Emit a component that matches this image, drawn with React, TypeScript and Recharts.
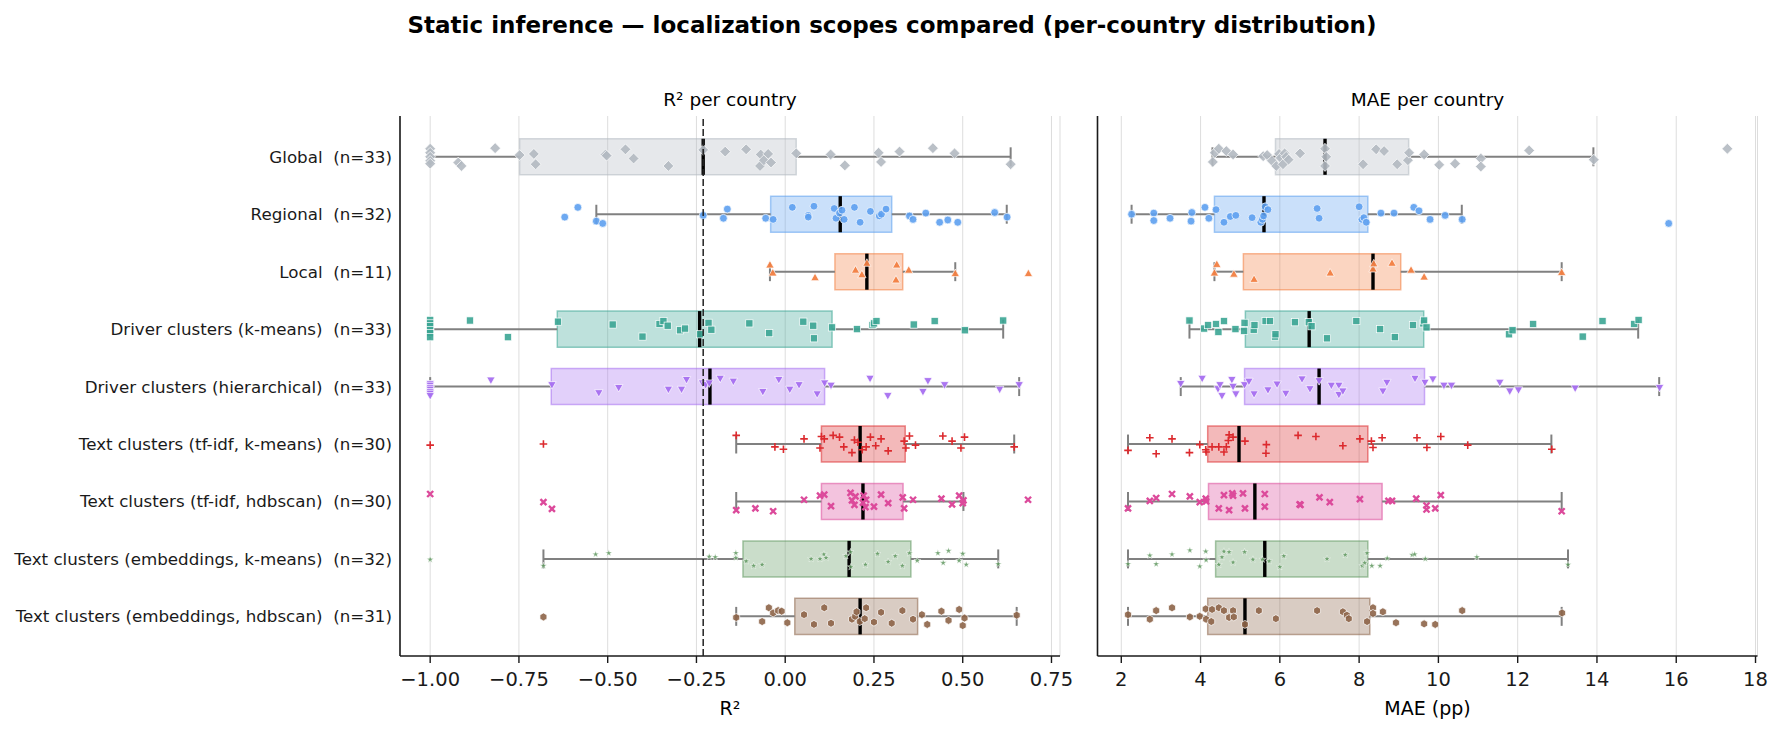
import React from 'react';
import {
  ScatterChart, Scatter, XAxis, YAxis, CartesianGrid, ReferenceArea, ReferenceLine,
} from 'recharts';

// categories (top to bottom)
const groups = [
  'Global  (n=33)',
  'Regional  (n=32)',
  'Local  (n=11)',
  'Driver clusters (k-means)  (n=33)',
  'Driver clusters (hierarchical)  (n=33)',
  'Text clusters (tf-idf, k-means)  (n=30)',
  'Text clusters (tf-idf, hdbscan)  (n=30)',
  'Text clusters (embeddings, k-means)  (n=32)',
  'Text clusters (embeddings, hdbscan)  (n=31)',
];

// ---- R² per country (values) + strip jitter (row units) ----
const r2Global = [-1, -1, -1, -1, -1, -0.921, -0.912, -0.817, -0.748, -0.708, -0.703, -0.506, -0.503, -0.45, -0.427, -0.329, -0.231, -0.169, -0.11, -0.071, -0.069, -0.06, -0.048, -0.04, 0.031, 0.128, 0.168, 0.263, 0.27, 0.322, 0.416, 0.477, 0.635];
const r2GlobalJit = [-0.14, -0.07, 0, 0.07, 0.12, 0.1, 0.16, -0.15, -0.03, -0.05, 0.13, -0.04, -0.02, -0.13, 0.03, 0.16, -0.12, -0.09, -0.13, 0.16, -0.04, 0.06, -0.05, 0.1, -0.06, -0.04, 0.15, -0.07, 0.09, -0.09, -0.15, -0.06, 0.13];
const r2Regional = [-0.621, -0.584, -0.532, -0.514, -0.231, -0.174, -0.163, -0.055, -0.034, 0.02, 0.065, 0.065, 0.081, 0.138, 0.143, 0.153, 0.16, 0.166, 0.195, 0.211, 0.24, 0.265, 0.271, 0.284, 0.35, 0.36, 0.396, 0.435, 0.458, 0.486, 0.59, 0.625];
const r2RegionalJit = [0.05, -0.12, 0.12, 0.16, 0.02, 0.07, -0.09, 0.07, 0.09, -0.12, 0.02, 0.05, -0.14, -0.1, 0.07, -0.02, -0.07, 0.09, -0.12, 0.14, -0.05, 0.03, 0, -0.09, 0.03, 0.09, -0.02, 0.14, 0.1, 0.14, -0.03, 0.05];
const r2Local = [-0.043, -0.035, 0.084, 0.198, 0.216, 0.23, 0.312, 0.314, 0.348, 0.479, 0.685];
const r2LocalJit = [-0.12, 0.02, 0.1, -0.03, 0.05, -0.15, 0.14, -0.12, -0.03, 0.03, 0.03];
const r2DriverKm = [-1, -1, -1, -1, -1, -1, -0.888, -0.781, -0.64, -0.486, -0.402, -0.354, -0.343, -0.331, -0.296, -0.282, -0.24, -0.216, -0.208, -0.101, -0.045, 0.051, 0.079, 0.081, 0.132, 0.202, 0.246, 0.25, 0.257, 0.362, 0.421, 0.506, 0.614];
const r2DriverKmJit = [-0.16, -0.1, -0.05, 0.02, 0.07, 0.14, -0.15, 0.14, -0.13, -0.08, 0.13, -0.09, -0.14, -0.06, 0.02, -0.01, 0.09, -0.11, 0.01, -0.1, 0.07, -0.13, -0.06, 0.16, -0.03, 0, -0.07, -0.1, -0.14, -0.08, -0.14, 0.02, -0.15];
const r2DriverHier = [-1, -1, -1, -1, -1, -1, -1, -0.829, -0.657, -0.525, -0.469, -0.329, -0.292, -0.278, -0.233, -0.224, -0.214, -0.183, -0.146, -0.063, -0.018, 0.013, 0.039, 0.09, 0.111, 0.129, 0.239, 0.289, 0.388, 0.402, 0.449, 0.604, 0.659];
const r2DriverHierJit = [-0.05, -0.02, 0.02, 0.05, 0.09, 0.12, 0.16, -0.11, -0.03, 0.11, 0.02, 0.05, 0.05, -0.12, -0.06, -0.03, -0.06, -0.14, -0.09, 0.09, -0.12, 0.05, -0.03, 0.13, -0.06, -0.02, -0.14, 0.16, 0.09, -0.1, -0.03, 0.05, -0.03];
const r2TfidfKm = [-1, -0.681, -0.138, -0.029, -0.005, 0.053, 0.098, 0.102, 0.11, 0.135, 0.153, 0.165, 0.188, 0.195, 0.205, 0.217, 0.228, 0.24, 0.255, 0.27, 0.29, 0.335, 0.34, 0.35, 0.367, 0.444, 0.47, 0.495, 0.505, 0.645];
const r2TfidfKmJit = [0.02, 0, -0.15, 0.05, 0.09, -0.09, 0.07, -0.13, -0.09, -0.15, -0.12, 0.05, 0.15, -0.07, -0.03, 0.1, 0.05, -0.12, 0.03, -0.09, 0.12, -0.05, 0.07, -0.14, 0.02, -0.14, -0.05, 0.07, -0.12, 0.05];
const r2TfidfHdb = [-1, -0.681, -0.657, -0.138, -0.084, -0.034, 0.053, 0.098, 0.11, 0.129, 0.184, 0.188, 0.195, 0.198, 0.219, 0.221, 0.226, 0.228, 0.25, 0.27, 0.29, 0.331, 0.335, 0.36, 0.44, 0.47, 0.49, 0.5, 0.502, 0.684];
const r2TfidfHdbJit = [-0.13, 0.01, 0.13, 0.15, 0.12, 0.17, -0.03, -0.1, -0.12, 0.08, -0.15, -0.02, 0.06, -0.09, 0.02, -0.1, 0.1, -0.03, 0.09, -0.12, 0.03, -0.07, 0.12, -0.03, -0.05, 0.05, -0.1, 0.03, -0.02, -0.03];
const r2EmbKm = [-1, -0.681, -0.534, -0.497, -0.214, -0.197, -0.139, -0.139, -0.11, -0.089, -0.065, 0.073, 0.098, 0.109, 0.115, 0.171, 0.184, 0.185, 0.226, 0.26, 0.29, 0.31, 0.33, 0.35, 0.372, 0.43, 0.445, 0.46, 0.49, 0.5, 0.51, 0.6];
const r2EmbKmJit = [0.01, 0.12, -0.08, -0.1, -0.04, -0.03, -0.1, -0.02, 0.04, 0.12, 0.1, 0, 0, -0.08, -0.02, -0.05, -0.12, 0.14, 0.1, -0.09, 0.05, -0.05, 0.12, -0.1, 0.03, -0.1, 0.07, -0.14, 0.03, -0.09, 0.1, 0.09];
const r2EmbHdb = [-0.681, -0.138, -0.065, -0.046, -0.034, -0.02, -0.01, 0.006, 0.053, 0.081, 0.11, 0.129, 0.188, 0.197, 0.201, 0.21, 0.224, 0.228, 0.25, 0.27, 0.3, 0.33, 0.36, 0.385, 0.4, 0.44, 0.46, 0.49, 0.5, 0.505, 0.652];
const r2EmbHdbJit = [0.01, 0.02, 0.09, -0.15, -0.06, -0.1, -0.09, 0.11, -0.03, 0.14, -0.15, 0.12, 0.05, 0, -0.08, 0.09, 0.04, -0.15, 0.1, -0.07, 0.12, -0.1, 0.05, -0.03, 0.14, -0.09, 0.07, -0.12, 0.16, 0.03, -0.02];

// R² box statistics
const r2Lo = [-1, -0.532, -0.043, -1, -1, -0.138, -0.138, -0.681, -0.138];
const r2Q1 = [-0.748, -0.041, 0.14, -0.642, -0.659, 0.102, 0.102, -0.119, 0.027];
const r2Median = [-0.231, 0.155, 0.23, -0.241, -0.212, 0.211, 0.219, 0.18, 0.211];
const r2Q3 = [0.031, 0.3, 0.331, 0.132, 0.111, 0.338, 0.332, 0.354, 0.373];
const r2Hi = [0.635, 0.624, 0.479, 0.614, 0.659, 0.645, 0.502, 0.6, 0.652];
const r2GlobalMedian = -0.231;

// ---- MAE per country (pp) ----
const maeGlobal = [4.31, 4.36, 4.46, 4.65, 4.82, 5.58, 5.68, 5.8, 5.91, 5.98, 6.02, 6.08, 6.12, 6.16, 6.22, 6.51, 7.14, 7.14, 7.17, 8.1, 8.43, 8.63, 8.96, 9.23, 9.26, 9.64, 10.02, 10.42, 11.07, 11.07, 12.29, 13.92, 17.29];
const maeGlobalJit = [0.09, -0.07, -0.14, -0.1, -0.04, -0.01, -0.03, 0.07, 0.16, -0.05, 0.02, 0.13, -0.06, 0, 0.05, -0.06, -0.14, 0.16, 0, 0.13, -0.13, -0.1, 0.13, 0.06, -0.07, -0.04, 0.14, 0.12, 0.03, 0.17, -0.11, 0.05, -0.14];
const maeRegional = [2.26, 2.82, 2.82, 3.23, 3.76, 3.78, 4.11, 4.21, 4.39, 4.59, 4.75, 4.89, 5.3, 5.52, 5.56, 5.59, 5.63, 5.7, 6.94, 6.99, 8.0, 8.07, 8.12, 8.18, 8.55, 8.88, 9.38, 9.51, 9.79, 10.17, 10.6, 15.81];
const maeRegionalJit = [0, -0.02, 0.11, 0.07, 0.12, -0.03, -0.12, 0.07, -0.08, 0.14, 0.04, 0.02, 0.06, 0.14, 0.09, 0.03, -0.13, -0.08, -0.1, 0.07, -0.13, 0.09, 0.06, 0.14, -0.02, -0.02, -0.12, -0.06, 0.09, 0.02, 0.09, 0.16];
const maeLocal = [4.35, 4.41, 4.84, 5.35, 7.27, 8.35, 8.37, 8.83, 9.31, 9.64, 13.11];
const maeLocalJit = [0.02, -0.13, 0.04, 0.13, 0.02, -0.05, -0.14, -0.15, -0.03, 0.09, 0.01];
const maeDriverKm = [3.72, 4.09, 4.19, 4.39, 4.45, 4.59, 4.88, 5.1, 5.11, 5.34, 5.36, 5.64, 5.75, 5.88, 5.89, 6.38, 6.73, 6.8, 7.19, 7.93, 8.53, 8.9, 9.36, 9.62, 9.64, 9.7, 11.78, 11.87, 12.39, 13.64, 14.14, 14.94, 15.05];
const maeDriverKmJit = [-0.15, -0.01, -0.07, -0.09, 0.05, -0.14, 0, 0.03, -0.11, 0.01, -0.07, -0.14, -0.14, 0.13, 0.09, -0.12, -0.12, -0.05, 0.16, -0.14, 0, 0.14, -0.07, -0.1, -0.15, -0.03, 0.09, 0.02, -0.09, 0.13, -0.14, -0.09, -0.16];
const maeDriverHier = [3.5, 4.04, 4.44, 4.49, 4.54, 4.79, 4.82, 4.89, 5.11, 5.22, 5.35, 5.7, 5.93, 6.15, 6.56, 6.76, 6.99, 7.3, 7.49, 7.49, 7.59, 8.6, 8.7, 9.41, 9.66, 9.86, 10.14, 10.33, 11.55, 11.8, 12.02, 13.45, 15.58];
const maeDriverHierJit = [-0.05, -0.14, 0.04, -0.03, 0.16, -0.12, 0, 0.13, -0.03, -0.09, 0.13, 0.06, -0.04, 0.12, -0.13, 0.04, -0.1, -0.02, -0.02, 0.14, 0.08, 0.08, -0.07, -0.14, -0.07, -0.13, -0.02, -0.02, -0.07, 0.08, 0.06, 0.03, 0.02];
const maeTfidfKm = [2.17, 2.72, 2.88, 3.28, 3.72, 3.98, 4.13, 4.14, 4.29, 4.46, 4.59, 4.65, 4.7, 4.72, 4.82, 5.12, 5.65, 5.66, 6.46, 6.91, 7.59, 8.02, 8.31, 8.35, 8.58, 9.46, 9.71, 10.06, 10.74, 12.86];
const maeTfidfKmJit = [0.11, -0.11, 0.17, -0.09, 0.15, 0.01, 0.1, 0.14, 0.05, 0.05, 0.14, 0.05, -0.06, -0.16, -0.12, -0.05, 0.16, 0.01, -0.15, -0.13, 0.03, -0.09, -0.05, 0.06, -0.11, -0.11, 0.06, -0.13, 0.02, 0.09];
const maeTfidfHdb = [2.17, 2.72, 2.88, 3.28, 3.73, 3.98, 4.13, 4.14, 4.46, 4.59, 4.72, 4.8, 4.82, 5.07, 5.12, 5.62, 5.62, 6.5, 6.52, 7.0, 7.26, 8.02, 8.74, 8.83, 9.44, 9.7, 9.7, 9.92, 10.06, 13.11];
const maeTfidfHdbJit = [0.12, -0.01, -0.06, -0.13, -0.09, 0.01, -0.05, 0, 0.12, -0.11, 0.15, -0.14, -0.1, -0.14, 0.12, -0.13, 0.09, 0.05, 0.06, -0.07, 0.01, -0.04, -0.01, -0.01, -0.05, 0.07, 0.14, 0.12, -0.11, 0.17];
const maeEmbKm = [2.17, 2.72, 2.88, 3.28, 3.73, 3.98, 4.13, 4.14, 4.46, 4.54, 4.59, 4.72, 4.82, 5.11, 5.32, 5.56, 5.73, 6.0, 6.1, 7.19, 7.65, 8.08, 8.14, 8.2, 8.32, 8.53, 8.71, 9.34, 9.4, 9.67, 10.97, 13.27];
const maeEmbKmJit = [0.09, -0.06, 0.09, -0.08, -0.15, 0.13, -0.13, 0.02, 0.1, -0.03, -0.13, -0.12, 0.06, -0.12, 0.01, 0.01, 0.04, 0.14, -0.05, 0, -0.07, 0.12, 0.07, -0.1, 0.12, 0.12, -0.01, -0.07, -0.08, 0, -0.03, 0.1];
const maeEmbHdb = [2.17, 2.72, 2.88, 3.28, 3.73, 3.98, 4.13, 4.14, 4.27, 4.29, 4.46, 4.59, 4.72, 4.82, 4.84, 5.12, 5.47, 5.9, 6.94, 7.59, 7.69, 7.74, 8.2, 8.35, 8.35, 8.6, 8.93, 9.64, 9.92, 10.6, 13.12];
const maeEmbHdbJit = [-0.03, 0.05, -0.1, -0.15, 0.01, 0, -0.13, 0.05, 0.09, -0.12, -0.15, -0.1, 0.02, -0.1, 0.01, 0.14, -0.1, 0.04, -0.1, -0.08, -0.02, 0.04, 0.09, -0.15, -0.05, -0.08, 0.11, 0.13, 0.14, -0.1, -0.06];

// MAE box statistics
const maeLo = [4.3, 2.26, 4.35, 3.72, 3.5, 2.17, 2.17, 2.17, 2.17];
const maeQ1 = [5.89, 4.35, 5.08, 5.13, 5.11, 4.18, 4.2, 4.38, 4.18];
const maeMedian = [7.14, 5.6, 8.35, 6.74, 6.99, 4.97, 5.37, 5.62, 5.12];
const maeQ3 = [9.25, 8.22, 9.05, 9.63, 9.65, 8.22, 8.58, 8.22, 8.27];
const maeHi = [13.91, 10.59, 13.11, 15.04, 15.57, 12.85, 13.11, 13.27, 13.11];

const r2Ticks = [-1, -0.75, -0.5, -0.25, 0, 0.25, 0.5, 0.75];
const maeTicks = [2, 4, 6, 8, 10, 12, 14, 16, 18];
const rowTicks = [0, 1, 2, 3, 4, 5, 6, 7, 8];

const r2Values = [r2Global, r2Regional, r2Local, r2DriverKm, r2DriverHier, r2TfidfKm, r2TfidfHdb, r2EmbKm, r2EmbHdb];
const r2Jitter = [r2GlobalJit, r2RegionalJit, r2LocalJit, r2DriverKmJit, r2DriverHierJit, r2TfidfKmJit, r2TfidfHdbJit, r2EmbKmJit, r2EmbHdbJit];
const maeValues = [maeGlobal, maeRegional, maeLocal, maeDriverKm, maeDriverHier, maeTfidfKm, maeTfidfHdb, maeEmbKm, maeEmbHdb];
const maeJitter = [maeGlobalJit, maeRegionalJit, maeLocalJit, maeDriverKmJit, maeDriverHierJit, maeTfidfKmJit, maeTfidfHdbJit, maeEmbKmJit, maeEmbHdbJit];

const FONT = '"DejaVu Sans", Verdana, sans-serif';
const INK = '#1a1a1a';

const styles = [
  { color: '#b3b9c1', kind: 'diamond' },
  { color: '#5da0ef', kind: 'circle' },
  { color: '#f27f42', kind: 'triUp' },
  { color: '#3ba594', kind: 'square' },
  { color: '#a66ff0', kind: 'triDown' },
  { color: '#dc2a2e', kind: 'plus' },
  { color: '#dc4a9b', kind: 'cross' },
  { color: '#5f985f', kind: 'star' },
  { color: '#8d6448', kind: 'hex' },
];

function Marker({ cx, cy, kind, color }: { cx: number; cy: number; kind: string; color: string }) {
  if (cx == null || cy == null) return null;
  const edge = { stroke: '#fff', strokeWidth: 0.7 };
  switch (kind) {
    case 'diamond': {
      const s = 5.4;
      return <polygon points={`${cx},${cy - s} ${cx + s},${cy} ${cx},${cy + s} ${cx - s},${cy}`} fill={color} fillOpacity={0.9} {...edge} />;
    }
    case 'circle':
      return <circle cx={cx} cy={cy} r={3.9} fill={color} fillOpacity={0.9} {...edge} />;
    case 'triUp':
      return <polygon points={`${cx},${cy - 4.3} ${cx + 4.2},${cy + 3.2} ${cx - 4.2},${cy + 3.2}`} fill={color} fillOpacity={0.95} {...edge} />;
    case 'triDown':
      return <polygon points={`${cx - 4.2},${cy - 3.2} ${cx + 4.2},${cy - 3.2} ${cx},${cy + 4.3}`} fill={color} fillOpacity={0.95} {...edge} />;
    case 'square':
      return <rect x={cx - 3.6} y={cy - 3.6} width={7.2} height={7.2} fill={color} fillOpacity={0.9} {...edge} />;
    case 'plus':
      return <path d={`M${cx - 3.8},${cy}H${cx + 3.8}M${cx},${cy - 3.8}V${cy + 3.8}`} stroke={color} strokeWidth={1.6} />;
    case 'cross':
      return <path d={`M${cx - 3},${cy - 3}L${cx + 3},${cy + 3}M${cx - 3},${cy + 3}L${cx + 3},${cy - 3}`} stroke={color} strokeWidth={2.4} />;
    case 'star': {
      const pts: string[] = [];
      for (let k = 0; k < 10; k++) {
        const r = k % 2 === 0 ? 3.6 : 1.4;
        const a = -Math.PI / 2 + (k * Math.PI) / 5;
        pts.push(`${cx + r * Math.cos(a)},${cy + r * Math.sin(a)}`);
      }
      return <polygon points={pts.join(' ')} fill={color} fillOpacity={0.85} stroke="#fff" strokeWidth={0.5} />;
    }
    default: {
      const pts: string[] = [];
      for (let k = 0; k < 6; k++) {
        const a = -Math.PI / 2 + (k * Math.PI) / 3;
        pts.push(`${cx + 4 * Math.cos(a)},${cy + 4 * Math.sin(a)}`);
      }
      return <polygon points={pts.join(' ')} fill={color} fillOpacity={0.9} {...edge} />;
    }
  }
}

const GroupTick = (props: any) => {
  const { x, y, payload } = props;
  return (
    <text x={x} y={y} dy="0.36em" textAnchor="end" fontSize={16.7} fontFamily={FONT}
      fill={INK} xmlSpace="preserve" style={{ whiteSpace: 'pre' }}>
      {groups[payload.value]}
    </text>
  );
};

const fmtR2 = (v: number) => (v < 0 ? '\u2212' : '') + Math.abs(v).toFixed(2);

type PanelProps = {
  values: number[][];
  jitter: number[][];
  lo: number[]; q1: number[]; med: number[]; q3: number[]; hi: number[];
  domain: [number, number];
  ticks: number[];
  fmt: (v: number) => string;
  labels: boolean;
  refX?: number;
  width: number;
  yWidth: number;
  marginRight: number;
};

const BOX = 0.314;
const CAP = 0.165;

function Panel(p: PanelProps) {
  return (
    <ScatterChart width={p.width} height={733} margin={{ top: 116, right: p.marginRight, bottom: 17, left: 0 }}>
      <CartesianGrid horizontal={false} stroke="#dddddd" strokeWidth={1} />
      <XAxis type="number" dataKey="x" domain={p.domain} allowDataOverflow ticks={p.ticks}
        tickFormatter={p.fmt} height={60} tickSize={7} tickMargin={9}
        axisLine={{ stroke: INK, strokeWidth: 1.6 }} tickLine={{ stroke: INK, strokeWidth: 1.4 }}
        tick={{ fontSize: 19.5, fill: INK, fontFamily: FONT }} interval={0} />
      <YAxis type="number" dataKey="y" domain={[-0.71, 8.69]} reversed allowDataOverflow ticks={rowTicks}
        width={p.yWidth} tickSize={0} tickMargin={8} tickLine={false} interval={0}
        axisLine={{ stroke: INK, strokeWidth: 1.6 }} tick={p.labels ? <GroupTick /> : false} />
      {rowTicks.map((i) => (
        <ReferenceArea key={`box${i}`} x1={p.q1[i]} x2={p.q3[i]} y1={i - BOX} y2={i + BOX}
          fill={styles[i].color} fillOpacity={0.33} stroke={styles[i].color} strokeOpacity={0.55} strokeWidth={1.5} />
      ))}
      {rowTicks.map((i) => (
        <ReferenceLine key={`wl${i}`} segment={[{ x: p.lo[i], y: i }, { x: p.q1[i], y: i }]} stroke="#808080" strokeWidth={2} />
      ))}
      {rowTicks.map((i) => (
        <ReferenceLine key={`wh${i}`} segment={[{ x: p.q3[i], y: i }, { x: p.hi[i], y: i }]} stroke="#808080" strokeWidth={2} />
      ))}
      {rowTicks.map((i) => (
        <ReferenceLine key={`cl${i}`} segment={[{ x: p.lo[i], y: i - CAP }, { x: p.lo[i], y: i + CAP }]} stroke="#808080" strokeWidth={2} />
      ))}
      {rowTicks.map((i) => (
        <ReferenceLine key={`ch${i}`} segment={[{ x: p.hi[i], y: i - CAP }, { x: p.hi[i], y: i + CAP }]} stroke="#808080" strokeWidth={2} />
      ))}
      {rowTicks.map((i) => (
        <ReferenceLine key={`md${i}`} segment={[{ x: p.med[i], y: i - BOX }, { x: p.med[i], y: i + BOX }]} stroke="#000" strokeWidth={3.4} />
      ))}
      {rowTicks.map((i) => (
        <Scatter key={`pts${i}`} data={p.values[i].map((v, k) => ({ x: v, y: i + p.jitter[i][k] }))}
          isAnimationActive={false}
          shape={(sp: any) => <Marker cx={sp.cx} cy={sp.cy} kind={styles[i].kind} color={styles[i].color} />} />
      ))}
      {p.refX !== undefined && (
        <ReferenceLine x={p.refX} stroke="#222" strokeWidth={1.5} strokeDasharray="7 3" zIndex={700} />
      )}
    </ScatterChart>
  );
}

export default function App() {
  return (
    <div style={{ position: 'absolute', left: 0, top: 0, width: 1784, height: 733, background: '#fff', fontFamily: FONT }}>
      <div style={{ position: 'absolute', left: 0, top: 0 }}>
        <Panel values={r2Values} jitter={r2Jitter} lo={r2Lo} q1={r2Q1} med={r2Median} q3={r2Q3} hi={r2Hi}
          domain={[-1.085, 0.774]} ticks={r2Ticks} fmt={fmtR2} labels refX={r2GlobalMedian}
          width={1080} yWidth={400} marginRight={20} />
      </div>
      <div style={{ position: 'absolute', left: 1090, top: 0 }}>
        <Panel values={maeValues} jitter={maeJitter} lo={maeLo} q1={maeQ1} med={maeMedian} q3={maeQ3} hi={maeHi}
          domain={[1.4, 18.05]} ticks={maeTicks} fmt={(v) => String(v)} labels={false}
          width={694} yWidth={7.5} marginRight={26.5} />
      </div>
      <svg width={1784} height={733} style={{ position: 'absolute', left: 0, top: 0, pointerEvents: 'none' }}>
        <text x={892} y={33} textAnchor="middle" fontSize={23} fontWeight="bold" fontFamily={FONT} fill="#000">
          Static inference — localization scopes compared (per-country distribution)
        </text>
        <text x={730} y={106} textAnchor="middle" fontSize={18.5} fontFamily={FONT} fill="#000">R² per country</text>
        <text x={1427.5} y={106} textAnchor="middle" fontSize={18.5} fontFamily={FONT} fill="#000">MAE per country</text>
        <text x={730} y={715} textAnchor="middle" fontSize={19} fontFamily={FONT} fill="#000">R²</text>
        <text x={1427.5} y={715} textAnchor="middle" fontSize={19} fontFamily={FONT} fill="#000">MAE (pp)</text>
      </svg>
    </div>
  );
}
